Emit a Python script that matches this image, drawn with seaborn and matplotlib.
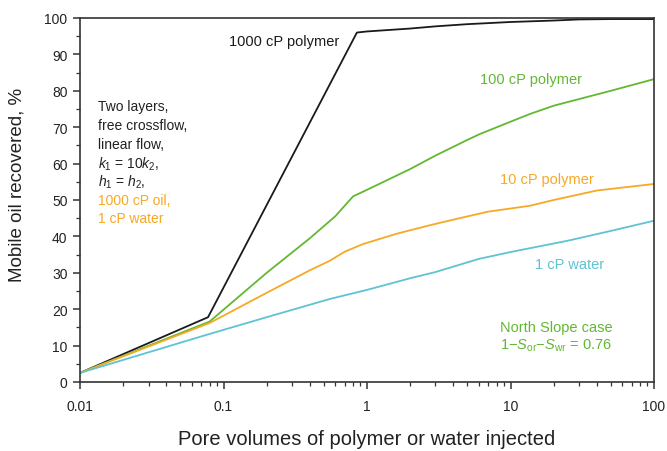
import numpy as np
import pandas as pd
import matplotlib
matplotlib.use("Agg")
import matplotlib.pyplot as plt
import seaborn as sns
from matplotlib.ticker import LogLocator, MultipleLocator, FixedLocator

# Data (pore volumes injected vs mobile oil recovered, %)
pv_1000 = [0.01, 0.078, 0.85, 1, 2, 3, 5, 10, 20, 30, 50, 100]
rec_1000 = [2.5, 17.8, 96.0, 96.3, 97.1, 97.7, 98.3, 98.9, 99.3, 99.6, 99.7, 99.7]

pv_100 = [0.01, 0.08, 0.2, 0.4, 0.6, 0.8, 1, 2, 3, 5, 6.1, 10, 13.6, 20, 50, 100]
rec_100 = [2.5, 16.6, 30.0, 39.5, 45.5, 51.0, 52.8, 58.5, 62.2, 66.5, 68.1, 71.5, 73.6, 75.9, 80.0, 83.2]

pv_10 = [0.01, 0.08, 0.2, 0.4, 0.55, 0.7, 0.94, 1.6, 2.7, 4.2, 7, 13.6, 20, 40, 100]
rec_10 = [2.5, 16.2, 24.5, 30.7, 33.3, 35.8, 37.9, 40.7, 43.0, 44.8, 46.8, 48.4, 50.0, 52.6, 54.4]

pv_1 = [0.01, 0.08, 0.2, 0.55, 1, 2, 3, 6, 10, 25, 50, 100]
rec_1 = [2.5, 13.2, 17.8, 22.8, 25.3, 28.5, 30.2, 33.8, 35.7, 38.8, 41.5, 44.3]

series = [
    ("1000 cP polymer", pv_1000, rec_1000, "#1a1a1a"),
    ("100 cP polymer", pv_100, rec_100, "#62b832"),
    ("10 cP polymer", pv_10, rec_10, "#f6a925"),
    ("1 cP water", pv_1, rec_1, "#5ec3d2"),
]

sns.set_style("ticks")
plt.rcParams['font.family'] = ['Liberation Sans', 'DejaVu Sans']
plt.rcParams['mathtext.fontset'] = 'custom'
plt.rcParams['mathtext.rm'] = 'Liberation Sans'
plt.rcParams['mathtext.it'] = 'Liberation Sans:italic'

fig = plt.figure(figsize=(6.67, 4.52), dpi=100)
ax = fig.add_axes([0.12, 0.1527, 0.8605, 0.8053])

for name, x, y, c in series:
    sns.lineplot(x=x, y=y, ax=ax, color=c, linewidth=1.3, sort=False, estimator=None)

ax.set_xscale("log")
ax.set_xlim(0.01, 100)
ax.set_ylim(0, 100)
ax.yaxis.set_major_locator(MultipleLocator(10))
ax.yaxis.set_minor_locator(MultipleLocator(5))
ax.xaxis.set_major_locator(FixedLocator([0.01, 0.1, 1, 10, 100]))
ax.xaxis.set_minor_locator(LogLocator(base=10, subs=np.arange(2, 10)))
ax.set_xticklabels(["0.01", "0.1", "1", "10", "100"])

for s in ax.spines.values():
    s.set_color("#333333")
    s.set_linewidth(1.2)
ax.tick_params(which="major", length=5, width=1.1, color="#333333",
               labelsize=10, labelcolor="#222222", pad=4)
ax.tick_params(which="minor", length=3, width=0.9, color="#333333")
ax.tick_params(axis="x", which="major", pad=7)

ax.set_xlabel("Pore volumes of polymer or water injected", fontsize=14.5, color="#222222")
ax.set_ylabel("Mobile oil recovered, %", fontsize=13.5, color="#222222")
ax.xaxis.set_label_coords(0.5, -0.128)
ax.yaxis.set_label_coords(-0.095, 0.544)

# curve labels
fs = 10.5
ax.text(0.11, 93.7, "1000 cP polymer", color="#1a1a1a", fontsize=fs, va="center")
ax.text(6.1, 83.2, "100 cP polymer", color="#62b832", fontsize=fs, va="center")
ax.text(8.4, 55.8, "10 cP polymer", color="#f6a925", fontsize=fs, va="center")
ax.text(14.8, 32.4, "1 cP water", color="#5ec3d2", fontsize=fs, va="center")
ax.text(20.8, 15.1, "North Slope case", color="#62b832", fontsize=fs, va="center", ha="center")
ax.text(20.8, 10.3, r"1$-$$S_{\mathrm{or}}$$-$$S_{\mathrm{wr}}$ = 0.76", color="#62b832",
        fontsize=fs, va="center", ha="center")

left_lines = [
    ("Two layers,", "#222222", 75.8),
    ("free crossflow,", "#222222", 70.6),
    ("linear flow,", "#222222", 65.4),
    (r"$k_1$ = 10$k_2$,", "#222222", 60.2),
    (r"$h_1$ = $h_2$,", "#222222", 55.0),
    ("1000 cP oil,", "#f6a925", 50.0),
    ("1 cP water", "#f6a925", 45.0),
]
for txt, c, yy in left_lines:
    ax.text(0.0133, yy, txt, color=c, fontsize=10, va="center")

fig.savefig("out.png", dpi=100)
